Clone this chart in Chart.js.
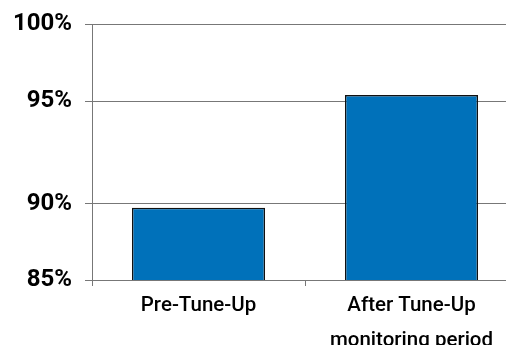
<!DOCTYPE html>
<html>
<head>
<meta charset="utf-8">
<script src="https://cdn.jsdelivr.net/npm/chart.js@4"></script>
<style>
  html, body { margin: 0; padding: 0; background: #fff; overflow: hidden; }
  #wrap { width: 506px; height: 345px; overflow: hidden; }
  canvas { display: block; }
</style>
</head>
<body>
<div id="wrap"><canvas id="tuneChart" width="518" height="345"></canvas></div>
<script>
// Data
const categories = [['Pre-Tune-Up'], ['After Tune-Up', 'monitoring period']];
const efficiency = [89.75, 95.4];
const yTicks = [85, 90, 95, 100];

// the original axis is not evenly spaced, so map values piece by piece
class PiecewiseScale extends Chart.LinearScale {
  static id = 'piecewise';
  static defaults = Chart.LinearScale.defaults;

  toDecimal(value) {
    const stops = this.options.stops;
    const fracs = this.options.fractions;
    for (let i = 0; i < stops.length - 1; i++) {
      if (value <= stops[i + 1] || i === stops.length - 2) {
        const t = (value - stops[i]) / (stops[i + 1] - stops[i]);
        return fracs[i] + t * (fracs[i + 1] - fracs[i]);
      }
    }
    return 0;
  }

  getPixelForValue(value) {
    if (value === null || value === undefined || isNaN(value)) return NaN;
    return this.getPixelForDecimal(this.toDecimal(value));
  }

  getValueForPixel(pixel) {
    const d = this.getDecimalForPixel(pixel);
    const stops = this.options.stops;
    const fracs = this.options.fractions;
    for (let i = 0; i < fracs.length - 1; i++) {
      if (d <= fracs[i + 1] || i === fracs.length - 2) {
        const t = (d - fracs[i]) / (fracs[i + 1] - fracs[i]);
        return stops[i] + t * (stops[i + 1] - stops[i]);
      }
    }
    return stops[0];
  }
}
Chart.register(PiecewiseScale);

const ctx = document.getElementById('tuneChart').getContext('2d');

const chart = new Chart(ctx, {
  type: 'bar',
  data: {
    labels: categories,
    datasets: [{
      data: efficiency,
      backgroundColor: '#0071BA',
      borderColor: '#111',
      borderWidth: 1.5,
      barPercentage: 0.625,
      categoryPercentage: 1
    }]
  },
  options: {
    responsive: false,
    animation: false,
    devicePixelRatio: 1,
    layout: { padding: { top: 24, left: 0, right: 0, bottom: 0 } },
    plugins: {
      legend: { display: false },
      tooltip: { enabled: false }
    },
    scales: {
      x: {
        grid: {
          drawOnChartArea: false,
          drawTicks: true,
          tickLength: 6,
          color: '#777',
          lineWidth: 1
        },
        border: { display: true, color: '#777', width: 1 },
        ticks: {
          color: '#000',
          padding: 2,
          maxRotation: 0,
          font: { family: 'Roboto, sans-serif', size: 20.5, weight: '500', lineHeight: 35 / 20.5 }
        },
        afterFit: (scale) => {
          scale.height = 65;
          scale.paddingLeft = 0;
          scale.paddingRight = 0;
        }
      },
      y: {
        type: 'piecewise',
        min: 85,
        max: 100,
        stops: yTicks,
        fractions: [0, 0.297, 0.699, 1],
        afterBuildTicks: (scale) => {
          scale.ticks = yTicks.map(v => ({ value: v }));
        },
        grid: {
          color: '#777',
          lineWidth: 1,
          tickLength: 7
        },
        border: { display: true, color: '#777', width: 1 },
        ticks: {
          color: '#000',
          padding: 13,
          font: { family: 'Roboto, sans-serif', size: 24, weight: 'bold' },
          callback: (v) => v + '%'
        },
        afterFit: (scale) => {
          scale.width = 92;
          scale.paddingTop = 0;
          scale.paddingBottom = 0;
        }
      }
    }
  }
});
</script>
</body>
</html>
